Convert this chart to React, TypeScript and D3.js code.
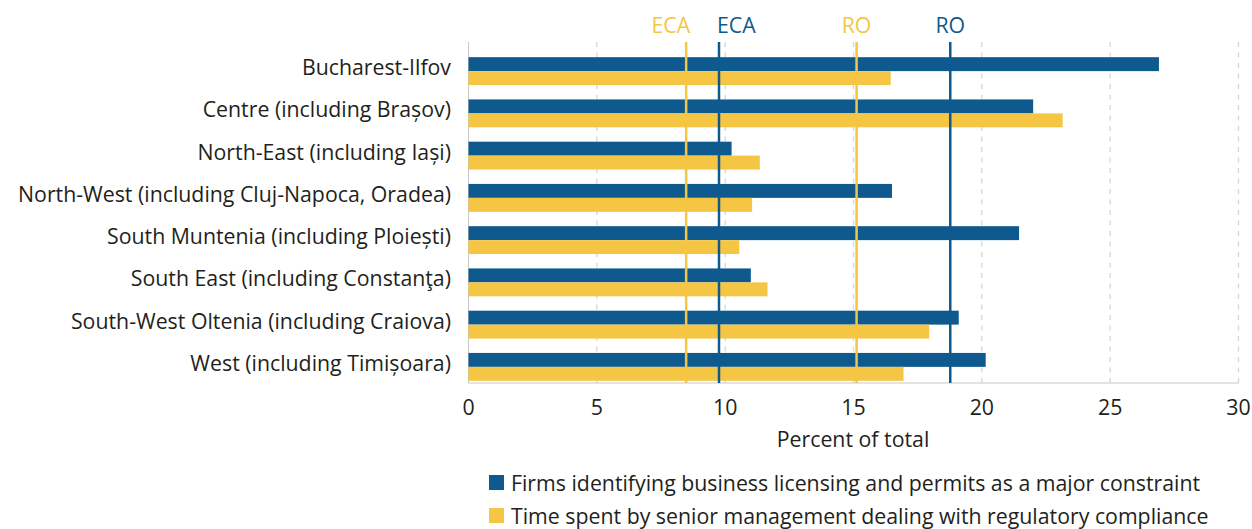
import React from "react";
import * as d3 from "d3";

const regions = [
  "Bucharest-Ilfov",
  "Centre (including Brașov)",
  "North-East (including Iași)",
  "North-West (including Cluj-Napoca, Oradea)",
  "South Muntenia (including Ploiești)",
  "South East (including Constanţa)",
  "South-West Oltenia (including Craiova)",
  "West (including Timișoara)",
];
const licensing = [26.9, 22.0, 10.25, 16.5, 21.45, 11.0, 19.1, 20.15];
const mgmtTime = [16.45, 23.15, 11.35, 11.05, 10.55, 11.65, 17.95, 16.95];
const xTicks = [0, 5, 10, 15, 20, 25, 30];
const refLines = [
  { label: "ECA", value: 8.48, series: "mgmt", anchor: "end" },
  { label: "ECA", value: 9.76, series: "lic", anchor: "start" },
  { label: "RO", value: 15.12, series: "mgmt", anchor: "middle" },
  { label: "RO", value: 18.77, series: "lic", anchor: "middle" },
];
const legendLabels = [
  "Firms identifying business licensing and permits as a major constraint",
  "Time spent by senior management dealing with regulatory compliance",
];

const BLUE = "#0e5a8e";
const YELLOW = "#f5c643";
const TEXT = "#231f20";
const FONT = "'Open Sans', sans-serif";
const FS = 21.3;

export default function App() {
  const x = d3.scaleLinear().domain([0, 30]).range([468.5, 1238.5]);
  const y = d3
    .scaleBand()
    .domain(regions)
    .range([50, 388])
    .paddingInner(0.34)
    .paddingOuter(0.17);
  const top = 42;
  const bottom = 383;
  const half = y.bandwidth() / 2;
  const color = (s: string) => (s === "lic" ? BLUE : YELLOW);

  return (
    <svg
      width={1252}
      height={529}
      style={{ position: "absolute", left: 0, top: 0, background: "#fff" }}
      fontFamily={FONT}
    >
      {/* grid */}
      {xTicks.slice(1).map((t) => (
        <line
          key={"g" + t}
          x1={x(t)}
          x2={x(t)}
          y1={top}
          y2={bottom}
          stroke="#d6d6d6"
          strokeWidth={1.3}
          strokeDasharray="5 5.5"
        />
      ))}
      <line x1={x(0)} x2={x(0)} y1={top} y2={bottom} stroke="#c8c8c8" strokeWidth={1} />
      <line x1={x(0)} x2={x(30)} y1={bottom} y2={bottom} stroke="#c8c8c8" strokeWidth={1} />

      {/* bars */}
      {regions.map((r, i) => (
        <g key={r}>
          <rect x={x(0)} y={y(r)} width={x(licensing[i]) - x(0)} height={half} fill={BLUE} />
          <rect x={x(0)} y={(y(r) as number) + half} width={x(mgmtTime[i]) - x(0)} height={half} fill={YELLOW} />
          <text
            x={451}
            y={(y(r) as number) + half - 3.5}
            dy="0.35em"
            textAnchor="end"
            fontSize={FS}
            fill={TEXT}
          >
            {r}
          </text>
        </g>
      ))}

      {/* reference lines */}
      {refLines.map((l, i) => (
        <g key={"r" + i}>
          <line x1={x(l.value)} x2={x(l.value)} y1={top} y2={bottom} stroke={color(l.series)} strokeWidth={2.5} />
          <text
            x={x(l.value) + (l.anchor === "end" ? 4 : l.anchor === "start" ? -2 : 0)}
            y={33}
            textAnchor={l.anchor as any}
            fontSize={FS}
            fill={color(l.series)}
          >
            {l.label}
          </text>
        </g>
      ))}

      {/* x axis labels */}
      {xTicks.map((t) => (
        <text key={"t" + t} x={x(t)} y={415} textAnchor="middle" fontSize={FS} fill={TEXT}>
          {t}
        </text>
      ))}
      <text x={853} y={447} textAnchor="middle" fontSize={FS} fill={TEXT}>
        Percent of total
      </text>

      {/* legend */}
      {legendLabels.map((lab, i) => (
        <g key={lab} transform={`translate(489, ${475 + i * 33})`}>
          <rect width={15} height={15} fill={i === 0 ? BLUE : YELLOW} />
          <text x={22} y={9} dy="0.35em" fontSize={FS} fill={TEXT}>
            {lab}
          </text>
        </g>
      ))}
    </svg>
  );
}
